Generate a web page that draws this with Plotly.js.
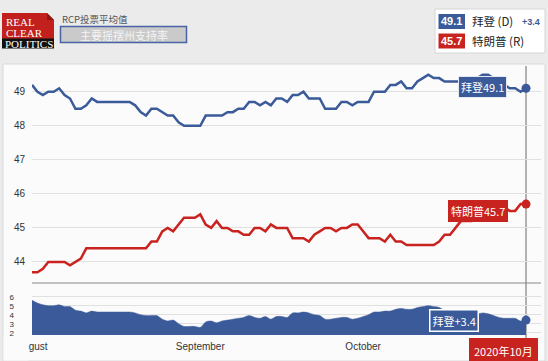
<!DOCTYPE html>
<html>
<head>
<meta charset="utf-8">
<script src="https://cdn.plot.ly/plotly-3.0.1.min.js"></script>
<style>html,body{margin:0;padding:0;background:#ebebeb;}#chart{width:548px;height:361px;}</style>
</head>
<body>
<div id="chart"></div>
<script>
// ---- data ----
const startDate = '2020-08-01';
const bidenName = '拜登';
const trumpName = '特朗普';
const biden = [49.2,49.0,48.9,49.0,49.0,49.1,48.9,48.8,48.5,48.5,
  48.6,48.8,48.7,48.7,48.7,48.7,48.7,48.7,48.7,48.6,
  48.4,48.3,48.5,48.5,48.4,48.3,48.3,48.1,48.0,48.0,
  48.0,48.0,48.3,48.3,48.3,48.3,48.4,48.4,48.5,48.5,
  48.7,48.7,48.6,48.7,48.6,48.8,48.8,48.7,48.9,48.9,
  49.0,48.8,48.8,48.8,48.5,48.5,48.5,48.7,48.7,48.6,
  48.7,48.7,48.7,49.0,49.0,49.0,49.2,49.2,49.3,49.1,
  49.1,49.3,49.4,49.5,49.4,49.4,49.3,49.3,49.3,49.3,
  49.3,49.4,49.4,49.5,49.5,49.4,49.3,49.2,49.1,49.1,
  49.0,49.1];
const trump = [43.7,43.7,43.8,44.0,44.0,44.0,44.0,43.9,44.0,44.1,
  44.4,44.4,44.4,44.4,44.4,44.4,44.4,44.4,44.4,44.4,
  44.4,44.4,44.6,44.6,44.9,45.0,44.9,45.1,45.3,45.3,
  45.3,45.4,45.1,45.0,45.2,45.0,45.0,44.9,44.9,44.8,
  44.8,45.0,45.0,44.9,45.1,45.0,45.0,45.0,44.7,44.7,
  44.7,44.6,44.8,44.9,45.0,45.0,44.9,45.0,45.0,45.1,
  45.1,44.9,44.7,44.7,44.7,44.6,44.8,44.6,44.6,44.5,
  44.5,44.5,44.5,44.5,44.5,44.6,44.8,44.8,45.0,45.2,
  45.2,45.2,45.3,45.3,45.4,45.5,45.6,45.6,45.5,45.5,
  45.7,45.7];
const spread = [5.6,5.3,5.1,5.0,5.0,5.1,4.9,4.9,4.5,4.4,
  4.2,4.4,4.3,4.3,4.3,4.3,4.3,4.3,4.3,4.2,
  4.0,3.9,3.9,3.9,3.5,3.3,3.4,3.0,2.7,2.7,
  2.7,2.6,3.2,3.3,3.1,3.3,3.4,3.5,3.6,3.7,
  3.9,3.7,3.6,3.8,3.5,3.8,3.8,3.7,4.2,4.2,
  4.3,4.2,4.0,3.9,3.5,3.5,3.6,3.7,3.7,3.5,
  3.6,3.8,4.0,4.3,4.3,4.4,4.4,4.6,4.7,4.6,
  4.6,4.8,4.9,5.0,4.9,4.8,4.5,4.5,4.3,4.1,
  4.1,4.2,4.1,4.2,4.1,3.9,3.7,3.6,3.6,3.6,
  3.3,3.4];
const topTicks = [44,45,46,47,48,49];
const bottomTicks = [2,3,4,5,6];
const monthTicks = ['2020-08-01','2020-09-01','2020-10-01'];
const cursorLabel = '2020年10月';

// dates for each daily point
const dates = biden.map((_, i) => {
  const d = new Date(startDate + 'T00:00:00Z');
  d.setUTCDate(d.getUTCDate() + i);
  return d.toISOString().slice(0, 10);
});
const last = biden.length - 1;

// ---- styling helpers ----
const W = 548, H = 361;
const px = x => x / W;
const py = y => 1 - y / H;
const BLUE = '#3b5a99', RED = '#c9231f', PANEL = '#fbfbfc';
const CJK = 'Noto Sans CJK SC, Liberation Sans, sans-serif';
const SANS = 'Liberation Sans, Arial, sans-serif';
const SERIF = 'Liberation Serif, DejaVu Serif, serif';

const traces = [
  {x: dates, y: biden, type: 'scatter', mode: 'lines', xaxis: 'x', yaxis: 'y',
   line: {color: BLUE, width: 2.5}, hoverinfo: 'skip'},
  {x: dates, y: trump, type: 'scatter', mode: 'lines', xaxis: 'x', yaxis: 'y',
   line: {color: RED, width: 2.5}, hoverinfo: 'skip'},
  {x: dates, y: spread, type: 'scatter', mode: 'lines', xaxis: 'x', yaxis: 'y2',
   fill: 'tozeroy', fillcolor: BLUE, line: {color: BLUE, width: 0.5, shape: 'spline', smoothing: 0.8},
   hoverinfo: 'skip'},
  {x: [dates[last]], y: [biden[last]], type: 'scatter', mode: 'markers', xaxis: 'x', yaxis: 'y',
   marker: {color: BLUE, size: 9}, hoverinfo: 'skip'},
  {x: [dates[last]], y: [trump[last]], type: 'scatter', mode: 'markers', xaxis: 'x', yaxis: 'y',
   marker: {color: RED, size: 9}, hoverinfo: 'skip'},
  {x: [dates[last]], y: [spread[last]], type: 'scatter', mode: 'markers', xaxis: 'x', yaxis: 'y2',
   marker: {color: BLUE, size: 9}, hoverinfo: 'skip'}
];

const shapes = [
  // panel
  {type: 'rect', xref: 'paper', yref: 'paper', x0: px(3), x1: px(545), y0: py(361), y1: py(64),
   fillcolor: PANEL, line: {color: '#d9d9d9', width: 1}, layer: 'below'},
  // separator
  {type: 'line', xref: 'paper', yref: 'paper', x0: px(32), x1: px(541), y0: py(283), y1: py(283),
   line: {color: '#8a8a8a', width: 1.2}, layer: 'above'},
  // cursor line
  {type: 'line', xref: 'x', yref: 'paper', x0: dates[last], x1: dates[last], y0: py(340), y1: py(66),
   line: {color: '#9a9a9a', width: 1.5}, layer: 'between'},
  // cover clipped month label
  {type: 'rect', xref: 'paper', yref: 'paper', x0: px(3.5), x1: px(28.5), y0: py(360.5), y1: py(337),
   fillcolor: PANEL, line: {width: 0}, layer: 'above'},
  // logo
  {type: 'rect', xref: 'paper', yref: 'paper', x0: px(2), x1: px(54), y0: py(39), y1: py(13),
   fillcolor: '#c1201c', line: {width: 0}, layer: 'above'},
  {type: 'path', xref: 'paper', yref: 'paper',
   path: `M ${px(47)} ${py(13)} L ${px(54)} ${py(13)} L ${px(54)} ${py(20)} Z`,
   fillcolor: '#ebebeb', line: {width: 0}, layer: 'above'},
  {type: 'path', xref: 'paper', yref: 'paper',
   path: `M ${px(47)} ${py(13)} L ${px(54)} ${py(20)} L ${px(47)} ${py(20)} Z`,
   fillcolor: '#8e1511', line: {width: 0}, layer: 'above'},
  {type: 'rect', xref: 'paper', yref: 'paper', x0: px(2), x1: px(54), y0: py(48.5), y1: py(38.5),
   fillcolor: '#111111', line: {width: 0}, layer: 'above'},
  // subtitle box
  {type: 'rect', xref: 'paper', yref: 'paper', x0: px(60.5), x1: px(186.5), y0: py(42.5), y1: py(26.5),
   fillcolor: '#cacaca', line: {color: '#4a63a5', width: 1.5}, layer: 'above'},
  // legend box
  {type: 'rect', xref: 'paper', yref: 'paper', x0: px(435), x1: px(545), y0: py(53), y1: py(9),
   fillcolor: '#ffffff', line: {color: '#d6d6d6', width: 1}, layer: 'above'},
  {type: 'rect', xref: 'paper', yref: 'paper', x0: px(438.5), x1: px(465), y0: py(29), y1: py(14),
   fillcolor: BLUE, line: {width: 0}, layer: 'above'},
  {type: 'rect', xref: 'paper', yref: 'paper', x0: px(438.5), x1: px(465), y0: py(48.5), y1: py(33.5),
   fillcolor: RED, line: {width: 0}, layer: 'above'}
];

const ann = (text, x, y, opts) => Object.assign({
  text, x: px(x), y: py(y), xref: 'paper', yref: 'paper', showarrow: false,
  xanchor: 'center', yanchor: 'middle'
}, opts);

const annotations = [
  ann('REAL', 3.5, 22.5, {xanchor: 'left', font: {family: SERIF, size: 11, color: '#ffffff'}}),
  ann('CLEAR', 3.5, 33, {xanchor: 'left', font: {family: SERIF, size: 11, color: '#ffffff'}}),
  ann('POLITICS', 3, 43.8, {xanchor: 'left', font: {family: SERIF, size: 11, color: '#ffffff'}}),
  ann('RCP投票平均值', 61, 19.3, {xanchor: 'left', font: {family: CJK, size: 9.5, color: '#555555'}, borderpad: 0}),
  ann('主要摇摆州支持率', 123.5, 35, {font: {family: CJK, size: 11, color: '#f4f4f4'}, borderpad: 0}),
  ann(biden[last].toFixed(1), 451.7, 21.5, {font: {family: SANS, size: 11, color: '#ffffff', weight: 'bold'}}),
  ann(trump[last].toFixed(1), 451.7, 41, {font: {family: SANS, size: 11, color: '#ffffff', weight: 'bold'}}),
  ann(bidenName + ' (D)', 469.5, 21.5, {xanchor: 'left', font: {family: CJK, size: 11.5, color: '#222222'}}),
  ann('+' + spread[last].toFixed(1), 541.5, 22, {xanchor: 'right', font: {family: SANS, size: 9, color: BLUE, weight: 'bold'}}),
  ann(trumpName + ' (R)', 469.5, 41, {xanchor: 'left', font: {family: CJK, size: 11.5, color: '#222222'}}),
  // chart labels
  ann(bidenName + biden[last].toFixed(1), 482.3, 87, {font: {family: CJK, size: 11, color: '#ffffff'},
    bgcolor: BLUE, bordercolor: '#e4e8f0', borderwidth: 1, borderpad: 2}),
  ann(trumpName + trump[last].toFixed(1), 477.5, 210.5, {font: {family: CJK, size: 11, color: '#ffffff'},
    bgcolor: RED, bordercolor: RED, borderwidth: 0, borderpad: 3}),
  ann(bidenName + '+' + spread[last].toFixed(1), 453.5, 320.5, {font: {family: CJK, size: 11, color: '#ffffff'},
    bgcolor: BLUE, bordercolor: '#ffffff', borderwidth: 1.5, borderpad: 2}),
  ann(cursorLabel, 503, 350.5, {font: {family: CJK, size: 11, color: '#ffffff'},
    bgcolor: RED, borderwidth: 0, borderpad: 5})
];

const layout = {
  width: W, height: H,
  margin: {l: 0, r: 0, t: 0, b: 0, pad: 0},
  paper_bgcolor: '#ebebeb',
  plot_bgcolor: PANEL,
  showlegend: false,
  font: {family: SANS, color: '#333333'},
  xaxis: {
    type: 'date', domain: [px(32), px(541)], anchor: 'y2',
    range: ['2020-08-01', '2020-11-02 18:14'],
    tickvals: monthTicks, tickformat: '%B',
    showgrid: false, zeroline: false, showline: false, ticks: '',
    tickfont: {family: SANS, size: 10, color: '#333333'},
    ticklabelstandoff: 4, fixedrange: true
  },
  yaxis: {
    domain: [py(283), py(65)], range: [43.383, 49.784], anchor: 'x',
    tickvals: topTicks, showgrid: true, gridcolor: '#e0e0e0', gridwidth: 1,
    zeroline: false, showline: false, ticks: '',
    tickfont: {family: SANS, size: 10, color: '#333333'},
    ticklabelstandoff: 6
  },
  yaxis2: {
    domain: [py(335), py(283)], range: [1.744, 7.522], anchor: 'x',
    tickvals: bottomTicks, showgrid: true, gridcolor: '#e0e0e0', gridwidth: 1,
    zeroline: false, showline: false, ticks: '',
    tickfont: {family: SANS, size: 8, color: '#333333'},
    ticklabelstandoff: 17
  },
  shapes, annotations
};

Plotly.newPlot('chart', traces, layout, {displayModeBar: false, staticPlot: true});
</script>
</body>
</html>
